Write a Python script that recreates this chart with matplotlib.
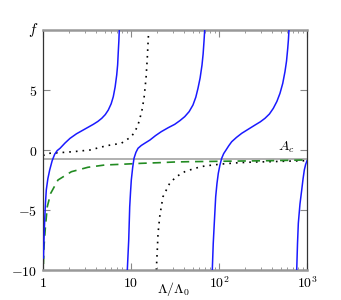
import matplotlib
matplotlib.use("Agg")
import matplotlib.pyplot as plt
from matplotlib.ticker import LogLocator, FixedLocator, NullFormatter

plt.rcParams['mathtext.fontset'] = 'cm'
plt.rcParams['font.family'] = ['DejaVu Serif']
plt.rcParams['font.size'] = 9

# --- data (Lambda/Lambda0, f) ---
blue_1_x = [1.012, 1.026, 1.045, 1.065, 1.090, 1.135, 1.191, 1.27, 1.358, 1.45, 1.561, 1.778, 2.027, 2.40, 2.87, 3.30, 3.73, 4.20, 4.65, 5.10, 5.52, 5.95, 6.29, 6.60, 6.88, 7.05, 7.17, 7.28, 7.36]
blue_1_y = [-9.0, -7.5, -5.83, -4.5, -3.33, -2.4, -1.67, -0.9, -0.35, -0.05, 0.14, 0.58, 0.97, 1.35, 1.67, 1.92, 2.14, 2.38, 2.64, 2.95, 3.33, 3.85, 4.44, 5.25, 6.25, 7.1, 8.19, 9.1, 10.0]
blue_2_x = [9.08, 9.42, 9.67, 9.88, 10.08, 10.45, 10.82, 11.37, 12.01, 13.1, 14.31, 16.4, 19.0, 22.1, 26.5, 31.4, 36.0, 40.8, 45.8, 50.6, 54.5, 57.7, 61.0, 64.1, 66.0, 67.5, 68.8]
blue_2_y = [-10.0, -7.5, -4.72, -3.5, -2.5, -1.45, -0.69, -0.2, 0.14, 0.38, 0.56, 0.83, 1.2, 1.53, 1.86, 2.14, 2.45, 2.78, 3.2, 3.75, 4.4, 5.14, 6.0, 7.08, 8.0, 9.03, 10.0]
blue_3_x = [83.9, 86.0, 88.4, 91.7, 94.8, 98.2, 102.5, 107.3, 113.0, 120.2, 129.0, 139.4, 158.0, 181.2, 215.0, 256.6, 295.0, 333, 374, 414, 455, 493, 530, 562, 585, 604, 615, 624]
blue_3_y = [-10.0, -7.8, -6.1, -3.9, -2.8, -1.94, -1.25, -0.69, -0.3, 0.0, 0.35, 0.69, 1.05, 1.39, 1.73, 2.08, 2.35, 2.64, 3.0, 3.47, 4.05, 4.72, 5.55, 6.53, 7.4, 8.47, 9.2, 10.0]
blue_4_x = [764, 780, 797, 832, 871, 902, 932, 965, 1000]
blue_4_y = [-10.0, -7.8, -6.1, -4.5, -3.33, -2.4, -1.67, -1.2, -0.9]

dot_1_x = [1.0, 1.045, 1.149, 1.561, 2.21, 3.42, 5.29, 7.76, 10.08, 11.1, 12.01, 13.23, 14.05, 14.81, 15.31, 15.89]
dot_1_y = [-0.45, -0.42, -0.28, -0.22, -0.14, 0.0, 0.36, 0.56, 1.11, 1.55, 2.08, 3.19, 4.3, 5.97, 7.64, 10.0]
dot_2_x = [19.39, 19.9, 20.3, 21.2, 22.1, 23.1, 25.2, 27.5, 32.7, 40.8, 52.9, 68.8, 107, 166, 256, 397, 670, 1000]
dot_2_y = [-10.0, -8.33, -6.94, -5.56, -4.72, -3.89, -3.33, -2.78, -2.22, -1.81, -1.53, -1.33, -1.17, -1.06, -1.0, -0.97, -0.92, -0.89]

green_x = [1.012, 1.026, 1.062, 1.119, 1.223, 1.48, 2.10, 3.24, 5.02, 7.76, 13.1, 20.3, 31.4, 48.4, 82.6, 166, 397, 949, 1000]
green_y = [-9.5, -8.06, -6.53, -4.72, -3.61, -2.5, -1.81, -1.44, -1.25, -1.19, -1.11, -1.06, -1.0, -0.97, -0.95, -0.92, -0.89, -0.83, -0.83]

A_c = -0.72

x_major = [1, 10, 100, 1000]
x_major_labels = ['$1$', '$10$', '$10^2$', '$10^3$']
y_major = [-10, -5, 0, 5]
y_major_labels = ['$-10$', '$-5$', '$0$', '$5$']

fig = plt.figure(figsize=(3.41, 3.0), dpi=100)
ax = fig.add_axes([43/341, 0.1, 264/341, 0.8])

ax.axhline(A_c, color='#aaaaaa', lw=1.3, zorder=1)
blue = '#1a1aff'
for bx, by in [(blue_1_x, blue_1_y), (blue_2_x, blue_2_y), (blue_3_x, blue_3_y), (blue_4_x, blue_4_y)]:
    ax.plot(bx, by, color=blue, lw=1.1, zorder=3, solid_joinstyle='round')
for dx, dy in [(dot_1_x, dot_1_y), (dot_2_x, dot_2_y)]:
    ax.plot(dx, dy, color='black', lw=1.2, ls=(0, (1, 3)), zorder=2)
ax.plot(green_x, green_y, color='#228b22', lw=1.2, ls=(0, (5, 3.5)), zorder=2)

ax.set_xscale('log')
ax.set_xlim(1, 1000)
ax.set_ylim(-10, 10)

ax.xaxis.set_major_locator(FixedLocator(x_major))
ax.set_xticklabels(x_major_labels)
ax.xaxis.set_minor_locator(LogLocator(base=10, subs=range(2, 10)))
ax.xaxis.set_minor_formatter(NullFormatter())
ax.set_yticks(y_major)
ax.set_yticklabels(y_major_labels)

ax.tick_params(which='both', direction='in', top=True, right=True, color='#888888')
ax.tick_params(which='major', length=5, width=0.8, labelsize=10, pad=4)
ax.tick_params(which='minor', length=2.5, width=0.6)

for s in ['top', 'bottom']:
    ax.spines[s].set_color('#999999')
    ax.spines[s].set_linewidth(1.8)
for s in ['left', 'right']:
    ax.spines[s].set_color('#333333')
    ax.spines[s].set_linewidth(0.9)

fig.text(174/341, 1 - 289/300, r'$\Lambda/\Lambda_0$', fontsize=10, ha='center', va='center')
ax.text(-0.038, 1.0, '$f$', transform=ax.transAxes, fontsize=11, ha='center', va='center')
ax.text(577, 0.25, '$A_c$', fontsize=10, ha='center', va='center')

fig.savefig('out.png', dpi=100)
